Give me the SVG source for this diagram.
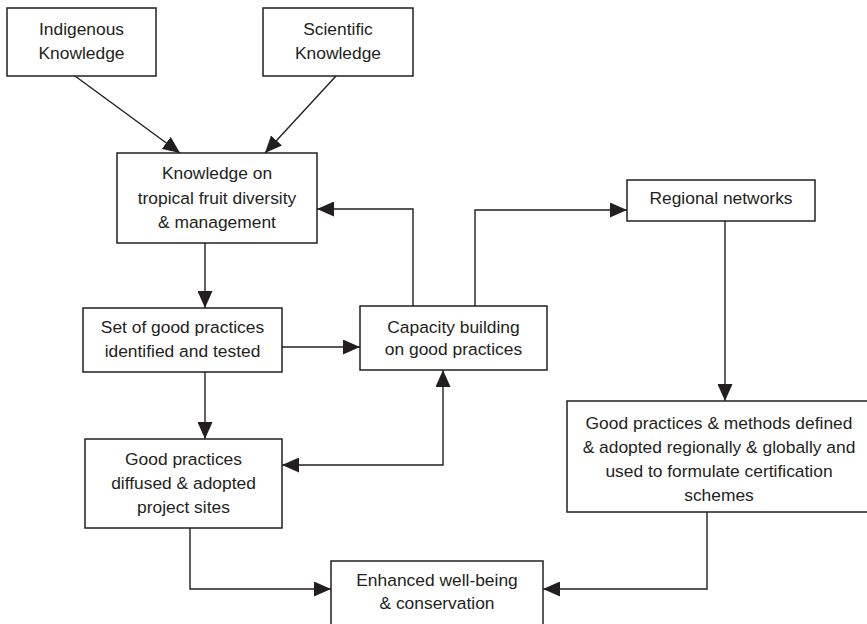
<svg xmlns="http://www.w3.org/2000/svg" width="867" height="624" viewBox="0 0 867 624">
<style>
.box{fill:#fff;stroke:#231f20;stroke-width:1.5}
.lbl{font-family:"Liberation Sans",Arial,sans-serif;font-size:17.4px;fill:#231f20;text-anchor:middle}
.conn{fill:none;stroke:#231f20;stroke-width:1.4}
</style>
<defs>
<marker id="ah" viewBox="0 0 17 15" refX="17" refY="7.5" markerWidth="17" markerHeight="15" markerUnits="userSpaceOnUse" orient="auto-start-reverse">
<path d="M0,0 L17,7.5 L0,15 z" fill="#231f20"/>
</marker>
</defs>
<rect width="867" height="624" fill="#fff"/>
<g id="connectors">
<path class="conn" d="M75,76 L180,153" marker-end="url(#ah)"/>
<path class="conn" d="M336,76 L265,153" marker-end="url(#ah)"/>
<path class="conn" d="M413,306 L413,209 L317,209" marker-end="url(#ah)"/>
<path class="conn" d="M475,306 L475,210 L627,210" marker-end="url(#ah)"/>
<path class="conn" d="M205,243 L205,308" marker-end="url(#ah)"/>
<path class="conn" d="M282,347 L360,347" marker-end="url(#ah)"/>
<path class="conn" d="M205,372 L205,439" marker-end="url(#ah)"/>
<path class="conn" d="M443,370 L443,465 L282,465" marker-start="url(#ah)" marker-end="url(#ah)"/>
<path class="conn" d="M190,528 L190,589 L331,589" marker-end="url(#ah)"/>
<path class="conn" d="M725,221 L725,401" marker-end="url(#ah)"/>
<path class="conn" d="M707,512 L707,589 L543,589" marker-end="url(#ah)"/>
</g>
<g id="indigenous">
<rect class="box" x="7" y="8" width="149" height="68"/>
<text class="lbl" x="81.5" y="35">Indigenous</text>
<text class="lbl" x="81.5" y="59">Knowledge</text>
</g>
<g id="scientific">
<rect class="box" x="263" y="8" width="150" height="68"/>
<text class="lbl" x="338" y="35">Scientific</text>
<text class="lbl" x="338" y="59">Knowledge</text>
</g>
<g id="knowledge">
<rect class="box" x="117" y="153" width="200" height="90"/>
<text class="lbl" x="217" y="179">Knowledge on</text>
<text class="lbl" x="217" y="203.5">tropical fruit diversity</text>
<text class="lbl" x="217" y="228">&amp; management</text>
</g>
<g id="regional">
<rect class="box" x="627" y="180" width="188" height="41"/>
<text class="lbl" x="721" y="204">Regional networks</text>
</g>
<g id="set">
<rect class="box" x="83" y="308" width="199" height="64"/>
<text class="lbl" x="182.5" y="333">Set of good practices</text>
<text class="lbl" x="182.5" y="357">identified and tested</text>
</g>
<g id="capacity">
<rect class="box" x="360" y="306" width="187" height="64"/>
<text class="lbl" x="453.5" y="333">Capacity building</text>
<text class="lbl" x="453.5" y="355">on good practices</text>
</g>
<g id="diffused">
<rect class="box" x="85" y="439" width="197" height="89"/>
<text class="lbl" x="183.5" y="465">Good practices</text>
<text class="lbl" x="183.5" y="489">diffused &amp; adopted</text>
<text class="lbl" x="183.5" y="513">project sites</text>
</g>
<g id="methods">
<rect class="box" x="567" y="401" width="306" height="111"/>
<text class="lbl" x="719" y="429">Good practices &amp; methods defined</text>
<text class="lbl" x="719" y="453">&amp; adopted regionally &amp; globally and</text>
<text class="lbl" x="719" y="477">used to formulate certification</text>
<text class="lbl" x="719" y="501">schemes</text>
</g>
<g id="enhanced">
<rect class="box" x="331" y="561" width="212" height="70"/>
<text class="lbl" x="437" y="586">Enhanced well-being</text>
<text class="lbl" x="437" y="609">&amp; conservation</text>
</g>
</svg>
